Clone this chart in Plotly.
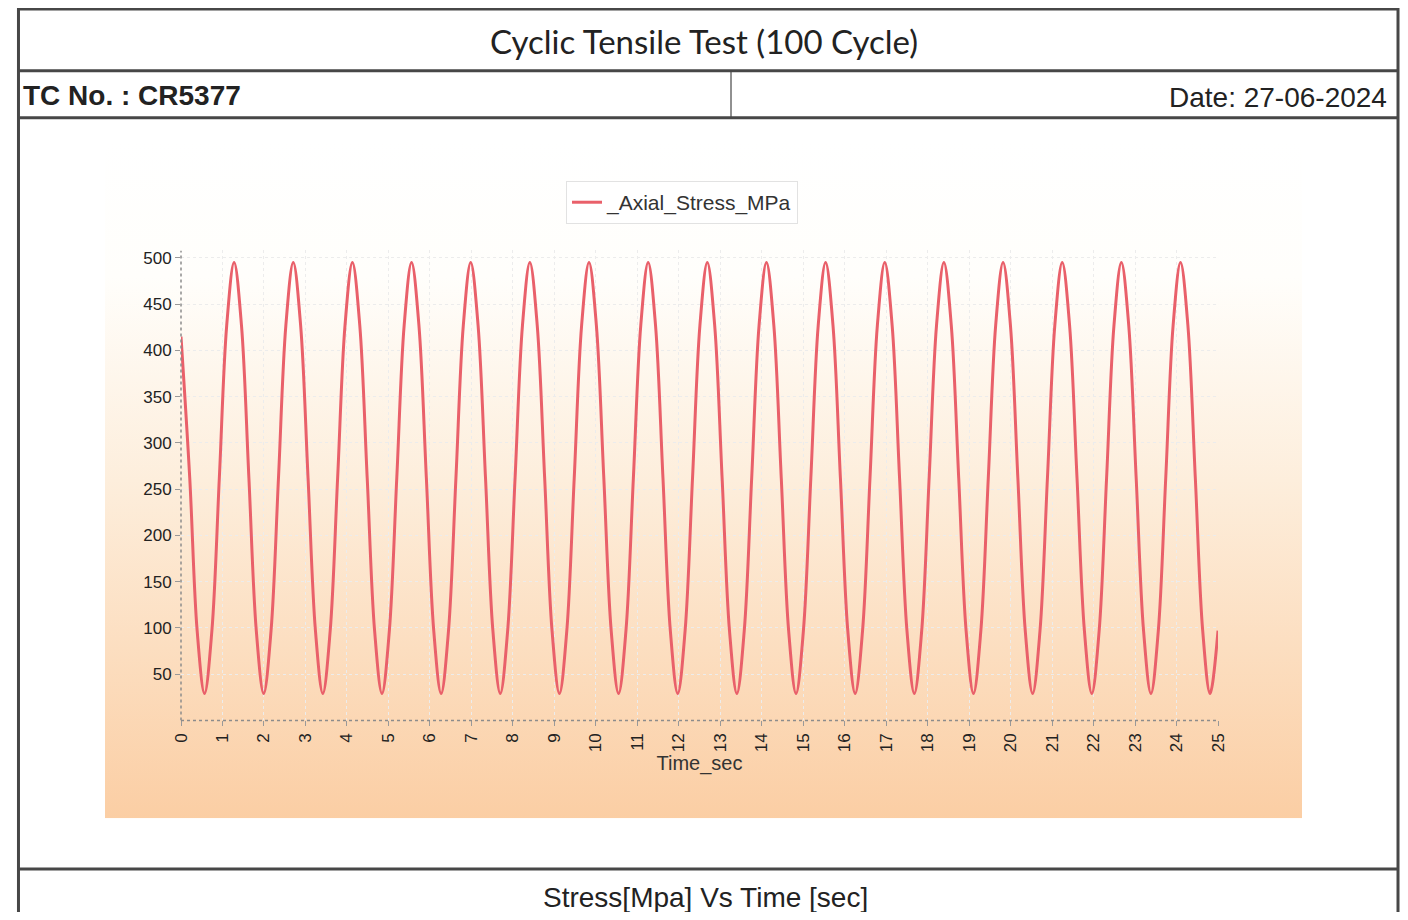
import base64
import plotly.graph_objects as go

W, H = 1408, 904
# measured placement of the figure in the photographed page
X0, SX, Y0 = 17.0, 0.9865, 8.0

# ---- data ----
time_sec = [
    0.000, 0.211, 0.389, 0.567, 0.745, 0.924, 1.102,
    1.280, 1.458, 1.637, 1.815, 1.993, 2.171, 2.350, 2.528,
    2.706, 2.884, 3.063, 3.241, 3.419, 3.597, 3.776, 3.954,
    4.132, 4.310, 4.489, 4.667, 4.845, 5.023, 5.202, 5.380,
    5.558, 5.736, 5.915, 6.093, 6.271, 6.449, 6.628, 6.806,
    6.984, 7.162, 7.341, 7.519, 7.697, 7.875, 8.054, 8.232,
    8.410, 8.588, 8.767, 8.945, 9.123, 9.301, 9.480, 9.658,
    9.836, 10.014, 10.193, 10.371, 10.549, 10.727, 10.906, 11.084,
    11.262, 11.440, 11.619, 11.797, 11.975, 12.153, 12.332, 12.510,
    12.688, 12.866, 13.045, 13.223, 13.401, 13.579, 13.758, 13.936,
    14.114, 14.292, 14.471, 14.649, 14.827, 15.005, 15.184, 15.362,
    15.540, 15.718, 15.897, 16.075, 16.253, 16.431, 16.610, 16.788,
    16.966, 17.144, 17.323, 17.501, 17.679, 17.857, 18.036, 18.214,
    18.392, 18.570, 18.749, 18.927, 19.105, 19.283, 19.462, 19.640,
    19.818, 19.996, 20.175, 20.353, 20.531, 20.709, 20.888, 21.066,
    21.244, 21.422, 21.601, 21.779, 21.957, 22.135, 22.314, 22.492,
    22.670, 22.848, 23.027, 23.205, 23.383, 23.561, 23.740, 23.918,
    24.096, 24.274, 24.453, 24.631, 24.809, 25.000,
]
axial_stress_mpa = [
    415, 262, 97, 29, 97, 262, 427,
    495, 427, 262, 97, 29, 97, 262, 427,
    495, 427, 262, 97, 29, 97, 262, 427,
    495, 427, 262, 97, 29, 97, 262, 427,
    495, 427, 262, 97, 29, 97, 262, 427,
    495, 427, 262, 97, 29, 97, 262, 427,
    495, 427, 262, 97, 29, 97, 262, 427,
    495, 427, 262, 97, 29, 97, 262, 427,
    495, 427, 262, 97, 29, 97, 262, 427,
    495, 427, 262, 97, 29, 97, 262, 427,
    495, 427, 262, 97, 29, 97, 262, 427,
    495, 427, 262, 97, 29, 97, 262, 427,
    495, 427, 262, 97, 29, 97, 262, 427,
    495, 427, 262, 97, 29, 97, 262, 427,
    495, 427, 262, 97, 29, 97, 262, 427,
    495, 427, 262, 97, 29, 97, 262, 427,
    495, 427, 262, 97, 29, 97, 262, 427,
    495, 427, 262, 97, 29, 97,
]
x_ticks = list(range(0, 26))
y_ticks = [50, 100, 150, 200, 250, 300, 350, 400, 450, 500]

title_text = "Cyclic Tensile Test (100 Cycle)"
tc_text = "TC No. : CR5377"
date_text = "Date: 27-06-2024"
footer_text = "Stress[Mpa] Vs Time [sec]"
series_name = "_Axial_Stress_MPa"

ARIAL = "Liberation Sans, Arial"


def px(x):
    return max((x - X0) / SX, 1.5) / W


def py(y):
    return 1 - (y - Y0) / H


fig = go.Figure()
fig.add_trace(go.Scatter(
    x=time_sec, y=axial_stress_mpa, mode="lines", name=series_name,
    line=dict(color="#e9606a", width=3, shape="spline", smoothing=1.0),
))

# gradient background for the chart panel
svg = ('<svg xmlns="http://www.w3.org/2000/svg" width="100" height="100" '
       'preserveAspectRatio="none"><defs><linearGradient id="g" x1="0" y1="0" '
       'x2="0" y2="1"><stop offset="0" stop-color="#ffffff"/>'
       '<stop offset="0.2" stop-color="#fffefb"/>'
       '<stop offset="0.5" stop-color="#fdeedc"/>'
       '<stop offset="1" stop-color="#fbcea4"/></linearGradient></defs>'
       '<rect width="100" height="100" fill="url(#g)"/></svg>')
src = "data:image/svg+xml;base64," + base64.b64encode(svg.encode()).decode()

shapes = []
frame_col = "#474747"
RIGHT = 1398
for yy in [7, 69, 116, 869]:
    shapes.append(dict(type="line", xref="paper", yref="paper",
                       x0=px(6), x1=px(RIGHT), y0=py(yy), y1=py(yy),
                       line=dict(color=frame_col, width=3)))
for xx in [8, RIGHT]:
    shapes.append(dict(type="line", xref="paper", yref="paper",
                       x0=px(xx), x1=px(xx), y0=py(6), y1=0,
                       line=dict(color=frame_col, width=3)))
shapes.append(dict(type="line", xref="paper", yref="paper",
                   x0=px(731), x1=px(731), y0=py(69), y1=py(116),
                   line=dict(color=frame_col, width=1.2)))
# dotted axis lines
shapes.append(dict(type="line", xref="x", yref="paper", x0=0, x1=25,
                   y0=py(720), y1=py(720),
                   line=dict(color="#8c8c8c", width=1.5, dash="dot")))
shapes.append(dict(type="line", xref="paper", yref="y", x0=px(181), x1=px(181),
                   y0=0, y1=508,
                   line=dict(color="#8c8c8c", width=1.5, dash="dot")))

annotations = [
    dict(text=title_text, x=px(704), y=py(39), xref="paper", yref="paper",
         showarrow=False, font=dict(family="Lato", size=33, color="#222"),
         xanchor="center", yanchor="middle"),
    dict(text="<b>" + tc_text + "</b>", x=px(21), y=py(94), xref="paper", yref="paper",
         showarrow=False, font=dict(family=ARIAL, size=28, color="#222"),
         xanchor="left", yanchor="middle"),
    dict(text=date_text, x=px(1389), y=py(96), xref="paper", yref="paper",
         showarrow=False, font=dict(family=ARIAL, size=28, color="#222"),
         xanchor="right", yanchor="middle"),
    dict(text=footer_text, x=px(705), y=py(897), xref="paper", yref="paper",
         showarrow=False, font=dict(family=ARIAL, size=28, color="#222"),
         xanchor="center", yanchor="middle"),
]

fig.update_layout(
    width=W, height=H,
    margin=dict(l=0, r=0, t=0, b=0),
    paper_bgcolor="white",
    plot_bgcolor="rgba(0,0,0,0)",
    images=[dict(source=src, xref="paper", yref="paper", x=px(105), y=py(140),
                 sizex=px(1302) - px(105), sizey=(818 - 140) / H,
                 xanchor="left", yanchor="top", sizing="stretch", layer="below")],
    shapes=shapes,
    annotations=annotations,
    showlegend=True,
    legend=dict(x=px(682), y=py(201), xanchor="center", yanchor="middle",
                bgcolor="white", bordercolor="#e2e2e2", borderwidth=1,
                font=dict(family=ARIAL, size=21, color="#333"),
                itemwidth=30),
    xaxis=dict(domain=[px(181), px(1218)], range=[0, 25],
               tickvals=x_ticks, ticktext=[str(v) for v in x_ticks],
               tickangle=-90, ticks="outside", ticklen=5, tickcolor="#999",
               tickfont=dict(family=ARIAL, size=17, color="#222"),
               showline=False, zeroline=False,
               showgrid=True, gridcolor="#ececec", griddash="dot", gridwidth=1,
               title=dict(text="Time_sec", standoff=3,
                          font=dict(family=ARIAL, size=20, color="#333"))),
    yaxis=dict(domain=[py(720), py(249)], range=[0, 508],
               tickvals=y_ticks, ticks="outside", ticklen=5, tickcolor="#999",
               tickfont=dict(family=ARIAL, size=17, color="#222"),
               showline=False, zeroline=False,
               showgrid=True, gridcolor="#ececec", griddash="dot", gridwidth=1),
)

fig.write_html("out.html")
